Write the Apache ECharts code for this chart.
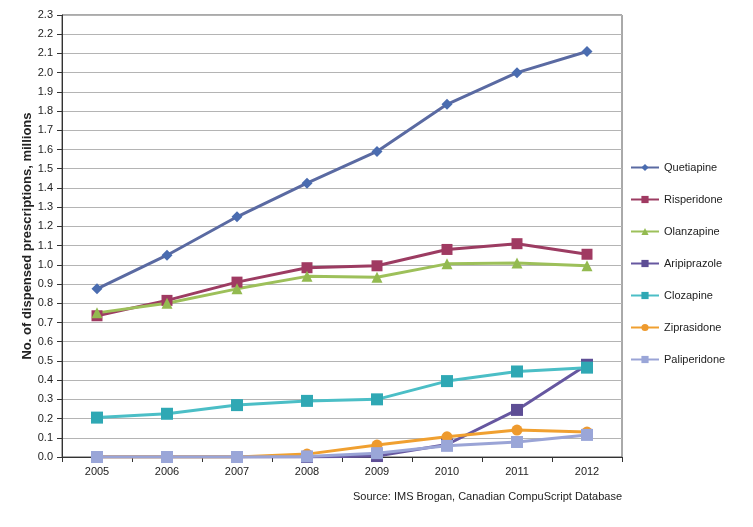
<!DOCTYPE html>
<html><head><meta charset="utf-8">
<script src="https://cdn.jsdelivr.net/npm/echarts@6/dist/echarts.min.js"></script>
<style>html,body{margin:0;padding:0;background:#fff}#c{width:753px;height:527px}</style>
</head><body><div id="c"></div>
<script>
const years = ['2005','2006','2007','2008','2009','2010','2011','2012'];
const quetiapine   = [0.875, 1.05, 1.25, 1.425, 1.59, 1.835, 2.0, 2.11];
const risperidone  = [0.735, 0.815, 0.91, 0.985, 0.995, 1.08, 1.11, 1.055];
const olanzapine   = [0.75, 0.80, 0.875, 0.94, 0.935, 1.005, 1.01, 0.995];
const aripiprazole = [0, 0, 0, 0, 0.005, 0.065, 0.245, 0.48];
const clozapine    = [0.205, 0.225, 0.27, 0.292, 0.30, 0.395, 0.445, 0.465];
const ziprasidone  = [0, 0, 0, 0.015, 0.062, 0.105, 0.14, 0.13];
const paliperidone = [0, 0, 0, 0.003, 0.02, 0.058, 0.078, 0.115];

const FONT = '"Liberation Sans", Arial, sans-serif';
function s(name, data, color, markerColor, symbol, size){
  return {name, type:'line', data, symbol, symbolSize:size,
    lineStyle:{color, width:3}, itemStyle:{color:markerColor, borderWidth:0},
    showSymbol:true, animation:false, z:2};
}
const chart = echarts.init(document.getElementById('c'));
chart.setOption({
  animation:false,
  grid:{left:62, right:131, top:15, bottom:70, show:true, borderColor:'#555', borderWidth:1},
  textStyle:{fontFamily:FONT},
  legend:{orient:'vertical', left:625, top:157, itemWidth:28, itemHeight:9, itemGap:21,
    textStyle:{fontSize:11, color:'#222', fontFamily:FONT},
    data:['Quetiapine','Risperidone','Olanzapine','Aripiprazole','Clozapine','Ziprasidone','Paliperidone']},
  xAxis:{type:'category', data:years, boundaryGap:true,
    axisLine:{lineStyle:{color:'#333'}},
    axisTick:{show:true, length:5, lineStyle:{color:'#333'}},
    axisLabel:{fontSize:11, color:'#222', margin:9, fontFamily:FONT}},
  yAxis:{type:'value', min:0, max:2.3, interval:0.1,
    name:'No. of dispensed prescriptions, millions', nameLocation:'middle', nameGap:28,
    nameMoveOverlap:false,
    nameTextStyle:{fontSize:13, fontWeight:'bold', color:'#222', fontFamily:FONT},
    axisLine:{show:true, lineStyle:{color:'#333'}},
    axisTick:{show:true, length:5, lineStyle:{color:'#333'}},
    splitLine:{lineStyle:{color:'#b4b4b4', width:1}},
    axisLabel:{fontSize:11, color:'#222', margin:9, fontFamily:FONT, formatter:v=>v.toFixed(1)}},
  graphic:[{type:'text', right:131, top:491, style:{text:'Source: IMS Brogan, Canadian CompuScript Database', fontSize:11, fill:'#222', fontFamily:FONT, textAlign:'right'}}],
  series:[
    s('Quetiapine', quetiapine, '#5A6AA2', '#4A6CB0', 'diamond', 11),
    s('Risperidone', risperidone, '#9C3C62', '#A03A62', 'rect', 11),
    s('Olanzapine', olanzapine, '#9DC05A', '#93BA50', 'triangle', 11),
    s('Aripiprazole', aripiprazole, '#6657A0', '#5E4E95', 'rect', 12),
    s('Clozapine', clozapine, '#4BBEC6', '#2FA8B4', 'rect', 12),
    s('Ziprasidone', ziprasidone, '#F0A030', '#EE9A2E', 'circle', 11),
    s('Paliperidone', paliperidone, '#9AA4D6', '#9AA6D8', 'rect', 12)
  ]
});
</script></body></html>
